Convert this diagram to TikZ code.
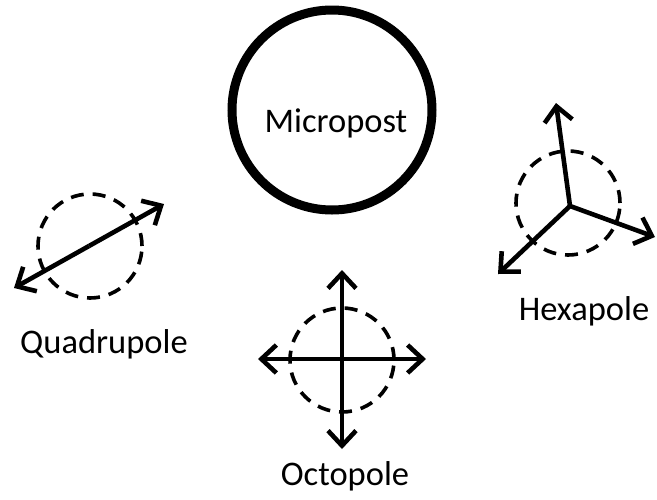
\documentclass[tikz,border=0pt]{standalone}
\usepackage{fontspec}
\setmainfont{Carlito}
\usetikzlibrary{arrows.meta}
\tikzset{
  post/.style={draw, circle, line width=9pt, minimum size=200pt, inner sep=0pt},
  field/.style={draw, circle, line width=3.6pt, dash pattern=on 13pt off 9pt, minimum size=104pt, inner sep=0pt},
  vec/.style={line width=4.6pt, -{Straight Barb[length=15pt, width=28pt, line width=4.6pt]}},
  lbl/.style={anchor=base, font=\fontsize{34.5}{40}\selectfont, inner sep=0pt},
}
\begin{document}
\begin{tikzpicture}[x=1pt, y=-1pt]
  \useasboundingbox (0,0) rectangle (657,499);

  % micropost
  \node[post] (post) at (332,110) {};
  \node[lbl] (postlbl) at (336,132) {Micropost};

  % quadrupole
  \node[field] (qf) at (90,246) {};
  \coordinate (qc) at (89,246);
  \coordinate (qa) at (14,288);
  \coordinate (qb) at (164,204);
  \draw[vec] (qc) -- (qa);
  \draw[vec] (qc) -- (qb);
  \node[lbl] (qlbl) at (104,353) {Quadrupole};

  % octopole
  \node[field] (of) at (342,360) {};
  \coordinate (oc) at (342,359);
  \coordinate (on) at (342,270);
  \coordinate (os) at (342,449);
  \coordinate (ow) at (258,359);
  \coordinate (oe) at (426,359);
  \draw[vec] (oc) -- (on);
  \draw[vec] (oc) -- (os);
  \draw[vec] (oc) -- (ow);
  \draw[vec] (oc) -- (oe);
  \node[lbl] (olbl) at (345,485) {Octopole};

  % hexapole
  \node[field] (hf) at (568,203) {};
  \coordinate (hc) at (570,206);
  \coordinate (hn) at (556,103);
  \coordinate (he) at (655,237);
  \coordinate (hw) at (498,274);
  \draw[vec] (hc) -- (hn);
  \draw[vec] (hc) -- (he);
  \draw[vec] (hc) -- (hw);
  \node[lbl] (hlbl) at (584,320) {Hexapole};
\end{tikzpicture}
\end{document}
